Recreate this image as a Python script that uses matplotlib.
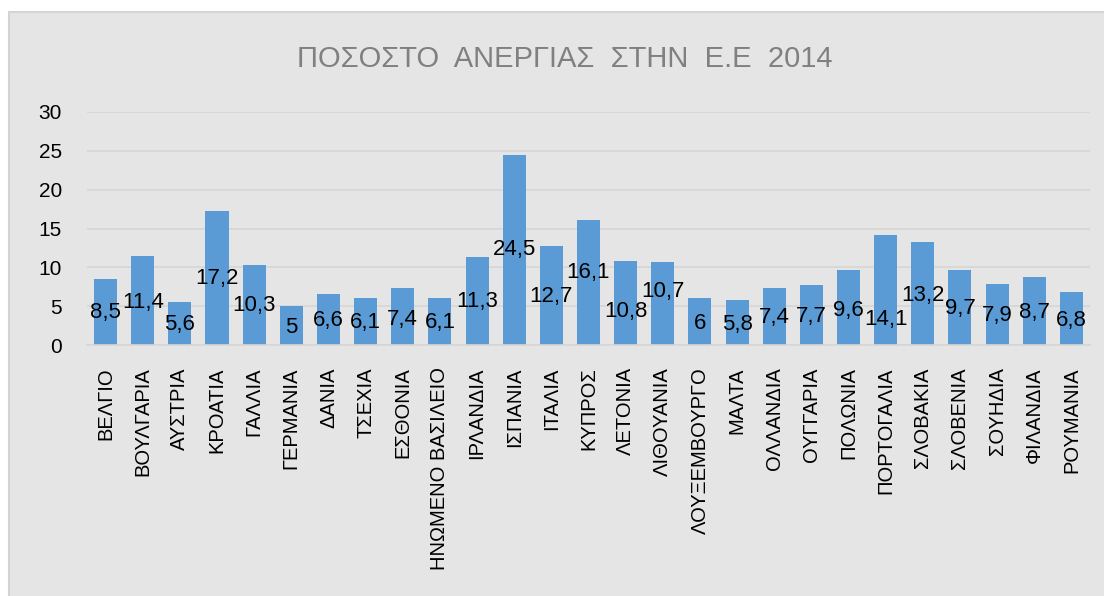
import matplotlib
matplotlib.use("Agg")
import matplotlib.pyplot as plt
from matplotlib.patches import Rectangle
import numpy as np

# data
countries = ["ΒΕΛΓΙΟ", "ΒΟΥΛΓΑΡΙΑ", "ΑΥΣΤΡΙΑ", "ΚΡΟΑΤΙΑ", "ΓΑΛΛΙΑ", "ΓΕΡΜΑΝΙΑ",
             "ΔΑΝΙΑ", "ΤΣΕΧΙΑ", "ΕΣΘΟΝΙΑ", "ΗΝΩΜΕΝΟ ΒΑΣΙΛΕΙΟ", "ΙΡΛΑΝΔΙΑ",
             "ΙΣΠΑΝΙΑ", "ΙΤΑΛΙΑ", "ΚΥΠΡΟΣ", "ΛΕΤΟΝΙΑ", "ΛΙΘΟΥΑΝΙΑ",
             "ΛΟΥΞΕΜΒΟΥΡΓΟ", "ΜΑΛΤΑ", "ΟΛΛΑΝΔΙΑ", "ΟΥΓΓΑΡΙΑ", "ΠΟΛΩΝΙΑ",
             "ΠΟΡΤΟΓΑΛΙΑ", "ΣΛΟΒΑΚΙΑ", "ΣΛΟΒΕΝΙΑ", "ΣΟΥΗΔΙΑ", "ΦΙΛΑΝΔΙΑ",
             "ΡΟΥΜΑΝΙΑ"]
unemployment = [8.5, 11.4, 5.6, 17.2, 10.3, 5, 6.6, 6.1, 7.4, 6.1, 11.3,
                24.5, 12.7, 16.1, 10.8, 10.7, 6, 5.8, 7.4, 7.7, 9.6,
                14.1, 13.2, 9.7, 7.9, 8.7, 6.8]
y_ticks = [0, 5, 10, 15, 20, 25, 30]

# label nudges (data units) relative to bar middle, as placed in the original
label_nudge = [-0.1, -0.2, -0.2, 0, -0.1, -0.3, -0.2, -0.1, -0.4, -0.1, -0.1,
               0, -0.1, 1.3, -1.1, 1.6, -0.2, -0.3, -0.1, -0.2, -0.3,
               -3.8, -0.2, -0.1, -0.2, -0.2, -0.2]

bg = "#E5E5E5"
bar_color = "#5B9BD5"
grid_color = "#D6D6D6"
font = ["Liberation Sans", "DejaVu Sans"]

fig = plt.figure(figsize=(11.04, 5.96), dpi=100)
fig.patch.set_facecolor("white")
# chart area (runs off the right and bottom edges)
fig.patches.append(Rectangle((9 / 1104, -0.05), 1.1, 1.05 - 12 / 596,
                             transform=fig.transFigure, facecolor=bg,
                             edgecolor="#D4D4D4", linewidth=1.5, zorder=0))

ax = fig.add_axes([0.0788, 0.4211, 0.9085, 0.391])
ax.set_zorder(2)
ax.patch.set_alpha(0)

x = np.arange(len(countries))
ax.bar(x, unemployment, width=0.62, color=bar_color, zorder=2)

for xi, v, n in zip(x, unemployment, label_nudge):
    txt = ("%g" % v).replace(".", ",")
    ax.text(xi, v / 2 + n, txt, ha="center", va="center", fontsize=16,
            family=font, color="black", zorder=3)

ax.set_xlim(-0.5, len(countries) - 0.5)
ax.set_ylim(0, 30)
ax.set_yticks(y_ticks)
ax.set_yticklabels([str(t) for t in y_ticks], fontsize=15, family=font)
ax.set_xticks(x)
ax.set_xticklabels(countries, rotation=90, fontsize=14.5, family=font,
                   va="top", ha="center")
ax.tick_params(axis="y", length=0, pad=18)
ax.tick_params(axis="x", length=0, pad=16)

ax.grid(axis="y", color=grid_color, linewidth=1.2, zorder=1)
ax.set_axisbelow(True)
for s in ["top", "right", "left"]:
    ax.spines[s].set_visible(False)
ax.spines["bottom"].set_color(grid_color)
ax.spines["bottom"].set_linewidth(1.2)

fig.text(0.512, 1 - 59 / 596, "ΠΟΣΟΣΤΟ  ΑΝΕΡΓΙΑΣ  ΣΤΗΝ  Ε.Ε  2014", ha="center",
         va="center", fontsize=21, family=font, color="#808080", zorder=3)

fig.savefig("out.png", dpi=100, facecolor=fig.get_facecolor())
